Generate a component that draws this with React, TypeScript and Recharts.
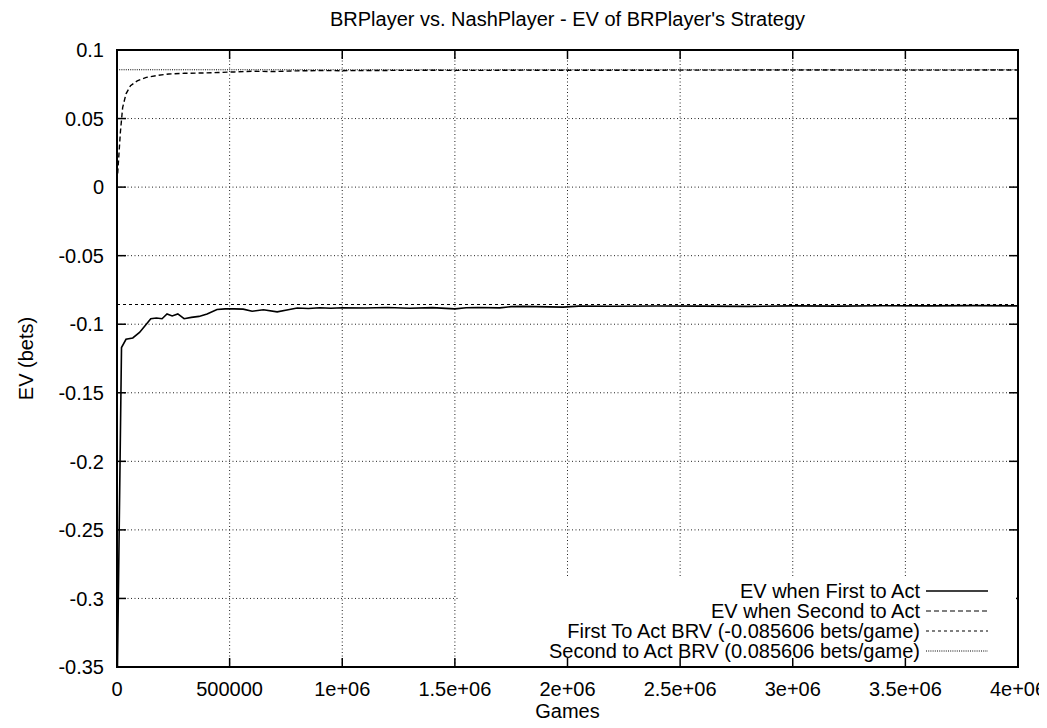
import React from "react";
import { LineChart, Line, XAxis, YAxis, CartesianGrid, ReferenceLine } from "recharts";

// ---------- data ----------
const GAMES_FIRST = [
  2000, 20000, 40000, 70000, 100000, 130000, 150000, 175000, 200000, 222000,
  245000, 270000, 298000, 330000, 364000, 400000, 444000, 480000, 520000, 560000,
  600000, 650000, 711000, 760000, 800000, 850000, 900000, 950000, 1000000, 1100000,
  1200000, 1300000, 1400000, 1500000, 1550000, 1600000, 1700000, 1750000, 1800000, 1980000,
  2050000, 2200000, 2400000, 2600000, 2800000, 3000000, 3200000, 3400000, 3600000, 3800000,
  4000000,
];
const EV_FIRST = [
  -0.35, -0.117, -0.111, -0.11, -0.106, -0.1, -0.096, -0.0955, -0.096, -0.0925,
  -0.094, -0.0925, -0.096, -0.095, -0.0943, -0.0925, -0.0893, -0.0888, -0.0888, -0.089,
  -0.0905, -0.0895, -0.091, -0.0895, -0.0882, -0.0885, -0.088, -0.0884, -0.088, -0.0882,
  -0.0878, -0.0884, -0.0879, -0.0888, -0.088, -0.0878, -0.0881, -0.0872, -0.087, -0.0875,
  -0.0868, -0.0869, -0.0867, -0.0868, -0.087, -0.0866, -0.0868, -0.0865, -0.0866, -0.0864,
  -0.0866,
];
const GAMES_SECOND = [
  3000, 15000, 25000, 40000, 60000, 90000, 130000, 180000, 230000, 300000,
  370000, 450000, 520000, 600000, 700000, 800000, 900000, 1000000, 1200000, 1400000,
  1600000, 1800000, 2000000, 2500000, 3000000, 3500000, 4000000,
];
const EV_SECOND = [
  0.01, 0.04, 0.058, 0.068, 0.074, 0.0775, 0.08, 0.0815, 0.0825, 0.083,
  0.0832, 0.0836, 0.084, 0.0845, 0.0843, 0.0848, 0.085, 0.0849, 0.0851, 0.0852,
  0.0851, 0.0853, 0.0852, 0.0853, 0.0854, 0.0853, 0.0854,
];
const BRV_FIRST = -0.085606;
const BRV_SECOND = 0.085606;

const X_TICKS = [0, 500000, 1000000, 1500000, 2000000, 2500000, 3000000, 3500000, 4000000];
const X_TICK_LABELS = ["0", "500000", "1e+06", "1.5e+06", "2e+06", "2.5e+06", "3e+06", "3.5e+06", "4e+06"];
const Y_TICKS = [0.1, 0.05, 0, -0.05, -0.1, -0.15, -0.2, -0.25, -0.3, -0.35];
const Y_TICK_LABELS = ["0.1", "0.05", "0", "-0.05", "-0.1", "-0.15", "-0.2", "-0.25", "-0.3", "-0.35"];

const TITLE = "BRPlayer vs. NashPlayer - EV of BRPlayer's Strategy";
const X_LABEL = "Games";
const Y_LABEL = "EV (bets)";
const LEGEND = [
  { name: "EV when First to Act", dash: undefined as string | undefined },
  { name: "EV when Second to Act", dash: "5 3" },
  { name: "First To Act BRV (-0.085606 bets/game)", dash: "3 3" },
  { name: "Second to Act BRV (0.085606 bets/game)", dash: "1 1.2" },
];

// ---------- layout ----------
const W = 1039;
const H = 720;
const PL = 109; // plot left
const PT = 42; // plot top
const PR = 1010; // plot right
const PB = 659; // plot bottom
const FONT = "'Liberation Sans', Arial, Helvetica, sans-serif";
const FS = 20;
const TICK = 9;

const firstData = GAMES_FIRST.map((g, i) => ({ games: g, ev: EV_FIRST[i] }));
const secondData = GAMES_SECOND.map((g, i) => ({ games: g, ev: EV_SECOND[i] }));

const XTick = (props: any) => {
  const { x, payload } = props;
  const idx = X_TICKS.indexOf(payload.value);
  return (
    <g>
      <line x1={x} x2={x} y1={PB} y2={PB - TICK} stroke="#000" strokeWidth={1.5} />
      <line x1={x} x2={x} y1={PT} y2={PT + TICK} stroke="#000" strokeWidth={1.5} />
      <text x={x} y={PB + 29} textAnchor="middle" fontFamily={FONT} fontSize={FS} fill="#000">
        {idx >= 0 ? X_TICK_LABELS[idx] : String(payload.value)}
      </text>
    </g>
  );
};

const YTick = (props: any) => {
  const { y, payload } = props;
  const idx = Y_TICKS.findIndex((t) => Math.abs(t - payload.value) < 1e-9);
  return (
    <g>
      <line x1={PL} x2={PL + TICK} y1={y} y2={y} stroke="#000" strokeWidth={1.5} />
      <line x1={PR} x2={PR - TICK} y1={y} y2={y} stroke="#000" strokeWidth={1.5} />
      <text x={PL - 13} y={y} dy="0.36em" textAnchor="end" fontFamily={FONT} fontSize={FS} fill="#000">
        {idx >= 0 ? Y_TICK_LABELS[idx] : String(payload.value)}
      </text>
    </g>
  );
};

// legend box (layout)
const LB = { x: 452, y: 568, w: 556, h: 90 };

export default function App() {
  return (
    <div style={{ position: "relative", width: W, height: H, background: "#fff" }}>
      <LineChart width={W} height={H} margin={{ top: PT, right: W - PR, left: 0, bottom: 0 }}>
        <CartesianGrid stroke="#222" strokeDasharray="1 2.5" strokeWidth={1} />
        <XAxis
          dataKey="games"
          type="number"
          domain={[0, 4000000]}
          ticks={X_TICKS}
          interval={0}
          tickSize={0}
          tickMargin={0}
          axisLine={false}
          tickLine={false}
          tick={<XTick />}
          height={H - PB}
          allowDuplicatedCategory={false}
        />
        <YAxis
          type="number"
          domain={[-0.35, 0.1]}
          ticks={Y_TICKS}
          interval={0}
          tickSize={0}
          tickMargin={0}
          axisLine={false}
          tickLine={false}
          tick={<YTick />}
          width={PL}
          allowDataOverflow
        />
        <ReferenceLine y={BRV_FIRST} stroke="#000" strokeWidth={1.2} strokeDasharray="3 3" />
        <ReferenceLine y={BRV_SECOND} stroke="#000" strokeWidth={1.2} strokeDasharray="1 1.2" />
        <Line
          data={secondData}
          dataKey="ev"
          type="linear"
          stroke="#000"
          strokeWidth={1.4}
          strokeDasharray="5 3"
          dot={false}
          isAnimationActive={false}
        />
        <Line
          data={firstData}
          dataKey="ev"
          type="linear"
          stroke="#000"
          strokeWidth={1.6}
          dot={false}
          isAnimationActive={false}
        />
      </LineChart>
      <svg
        width={W}
        height={H}
        style={{ position: "absolute", left: 0, top: 0, pointerEvents: "none" }}
      >
        <text x={(PL + PR) / 2} y={18} textAnchor="middle" fontFamily={FONT} fontSize={FS} fill="#000">
          {TITLE}
        </text>
        <text x={(PL + PR) / 2} y={710} textAnchor="middle" fontFamily={FONT} fontSize={FS} fill="#000">
          {X_LABEL}
        </text>
        <text
          x={0}
          y={0}
          transform={`translate(25, ${(PT + PB) / 2}) rotate(-90)`}
          textAnchor="middle"
          fontFamily={FONT}
          fontSize={FS}
          fill="#000"
        >
          {Y_LABEL}
        </text>
        <rect x={LB.x} y={LB.y} width={LB.w} height={LB.h} fill="#fff" />
        {LEGEND.map((item, i) => {
          const cy = LB.y + 15 + i * 20;
          return (
            <g key={item.name}>
              <text x={LB.x + 460} y={cy} dy="0.36em" textAnchor="end" fontFamily={FONT} fontSize={FS} fill="#000">
                {item.name}
              </text>
              <line
                x1={LB.x + 466}
                x2={LB.x + 528}
                y1={cy}
                y2={cy}
                stroke="#000"
                strokeWidth={item.dash ? 1.2 : 1.6}
                strokeDasharray={item.dash}
              />
            </g>
          );
        })}
        {X_TICKS.map((t, i) => {
          const x = PL + ((PR - PL) * t) / 4000000;
          return x > LB.x && x < LB.x + LB.w ? (
            <line key={"bt" + i} x1={x} x2={x} y1={PB} y2={PB - TICK} stroke="#000" strokeWidth={1.5} />
          ) : null;
        })}
        <rect x={PL} y={PT} width={PR - PL} height={PB - PT} fill="none" stroke="#000" strokeWidth={2} />
      </svg>
    </div>
  );
}
